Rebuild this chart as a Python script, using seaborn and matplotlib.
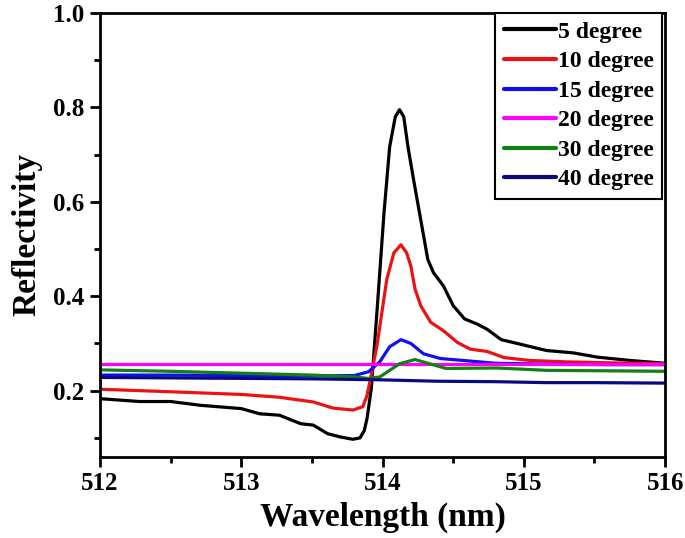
import numpy as np
import pandas as pd
import matplotlib
matplotlib.use("Agg")
import matplotlib.pyplot as plt
import seaborn as sns
from matplotlib.ticker import MultipleLocator

# ---- data ----
labels = ["5 degree", "10 degree", "15 degree", "20 degree", "30 degree", "40 degree"]
colors = ["#000000", "#ee1111", "#1010ee", "#ff00ff", "#138013", "#0a0a80"]

x5 = [512.0, 512.28, 512.5, 512.71, 513.0, 513.13, 513.27, 513.42, 513.51, 513.61, 513.70, 513.79, 513.84,
      513.87, 513.89, 513.92, 513.96, 514.01, 514.05, 514.09, 514.12, 514.15, 514.18, 514.22, 514.27,
      514.32, 514.36, 514.43, 514.5, 514.58, 514.67, 514.74, 514.84, 514.98, 515.16, 515.35, 515.52,
      515.75, 516.0]
y5 = [0.183, 0.177, 0.177, 0.169, 0.162, 0.151, 0.148, 0.130, 0.127, 0.109, 0.102, 0.097, 0.100,
      0.115, 0.141, 0.204, 0.366, 0.576, 0.716, 0.78, 0.795, 0.78, 0.716, 0.646, 0.562,
      0.478, 0.45, 0.422, 0.38, 0.352, 0.341, 0.33, 0.308, 0.298, 0.285, 0.280, 0.271,
      0.264, 0.258]

x10 = [512.0, 512.47, 513.0, 513.27, 513.51, 513.65, 513.79, 513.86, 513.89, 513.91, 513.96, 514.03,
       514.08, 514.13, 514.17, 514.20, 514.23, 514.27, 514.34, 514.43, 514.53, 514.62, 514.74, 514.86,
       515.04, 515.3, 515.6, 516.0]
y10 = [0.203, 0.198, 0.192, 0.186, 0.176, 0.163, 0.159, 0.166, 0.19, 0.219, 0.295, 0.436,
       0.492, 0.509, 0.492, 0.464, 0.415, 0.38, 0.345, 0.327, 0.302, 0.288, 0.283, 0.270,
       0.264, 0.261, 0.259, 0.257]

x15 = [512.0, 512.5, 513.0, 513.5, 513.8, 513.9, 513.98, 514.05, 514.13, 514.2, 514.29, 514.41, 514.57,
       514.8, 515.2, 515.6, 516.0]
y15 = [0.233, 0.233, 0.232, 0.231, 0.232, 0.240, 0.261, 0.293, 0.308, 0.300, 0.278, 0.268, 0.264,
       0.258, 0.256, 0.255, 0.255]

x20 = [512.0, 513.0, 514.0, 515.0, 516.0]
y20 = [0.257, 0.257, 0.257, 0.257, 0.257]

x30 = [512.0, 512.5, 513.0, 513.5, 513.8, 513.9, 513.98, 514.05, 514.12, 514.23, 514.32, 514.45,
       514.81, 515.16, 515.6, 516.0]
y30 = [0.244, 0.241, 0.237, 0.233, 0.229, 0.226, 0.229, 0.243, 0.257, 0.266, 0.258, 0.247,
       0.248, 0.243, 0.242, 0.241]

x40 = [512.0, 512.5, 513.0, 513.5, 513.98, 514.38, 514.8, 515.16, 515.5, 516.0]
y40 = [0.228, 0.227, 0.226, 0.225, 0.223, 0.220, 0.219, 0.217, 0.217, 0.216]

xs = [x5, x10, x15, x20, x30, x40]
ys = [y5, y10, y15, y20, y30, y40]

frames = [pd.DataFrame({"Wavelength": x, "Reflectivity": y, "Angle": lab})
          for x, y, lab in zip(xs, ys, labels)]
df = pd.concat(frames, ignore_index=True)

# ---- plotting ----
sns.set_theme(style="white")
plt.rcParams["font.family"] = ["Liberation Serif", "DejaVu Serif"]
plt.rcParams["font.weight"] = "bold"
plt.rcParams["text.color"] = "black"
plt.rcParams["axes.labelcolor"] = "black"
plt.rcParams["xtick.color"] = "black"
plt.rcParams["ytick.color"] = "black"
plt.rcParams["lines.solid_joinstyle"] = "round"
plt.rcParams["lines.solid_capstyle"] = "round"

fig = plt.figure(figsize=(6.85, 5.38), dpi=100)
ax = fig.add_axes([0.146, 0.151, 0.825, 0.825])

sns.lineplot(data=df, x="Wavelength", y="Reflectivity", hue="Angle",
             hue_order=labels, palette=colors, estimator=None, sort=True,
             linewidth=2.3, ax=ax)

ax.set_xlim(512, 516)
ax.set_ylim(0.06, 1.0)
ax.xaxis.set_major_locator(MultipleLocator(1))
ax.xaxis.set_minor_locator(MultipleLocator(0.5))
ax.yaxis.set_major_locator(MultipleLocator(0.2))
ax.yaxis.set_minor_locator(MultipleLocator(0.1))
ax.set_yticks([0.2, 0.4, 0.6, 0.8, 1.0])

for s in ax.spines.values():
    s.set_linewidth(2.0)
    s.set_color("black")

ax.tick_params(axis="both", which="major", direction="out", length=7, width=2, pad=4,
               labelsize=18, bottom=True, left=True, top=False, right=False, colors="black")
ax.tick_params(axis="both", which="minor", direction="out", length=4, width=2,
               bottom=True, left=True, top=False, right=False)
for lab in ax.get_xticklabels() + ax.get_yticklabels():
    lab.set_fontweight("bold")

ax.set_xlabel("Wavelength (nm)", fontsize=24, fontweight="bold", labelpad=5)
ax.set_ylabel("Reflectivity", fontsize=24, fontweight="bold", labelpad=8)

leg = ax.legend(loc="upper right", bbox_to_anchor=(0.995, 1.0),
                frameon=True, fancybox=False, framealpha=1, edgecolor="black",
                handlelength=2.2, handletextpad=0.1, labelspacing=0.34,
                borderpad=0.35, borderaxespad=0.0, title=None,
                prop={"weight": "bold", "size": 17})
leg.get_frame().set_linewidth(1.5)
for line in leg.get_lines():
    line.set_linewidth(3)

fig.savefig("out.png", dpi=100, facecolor="white")
